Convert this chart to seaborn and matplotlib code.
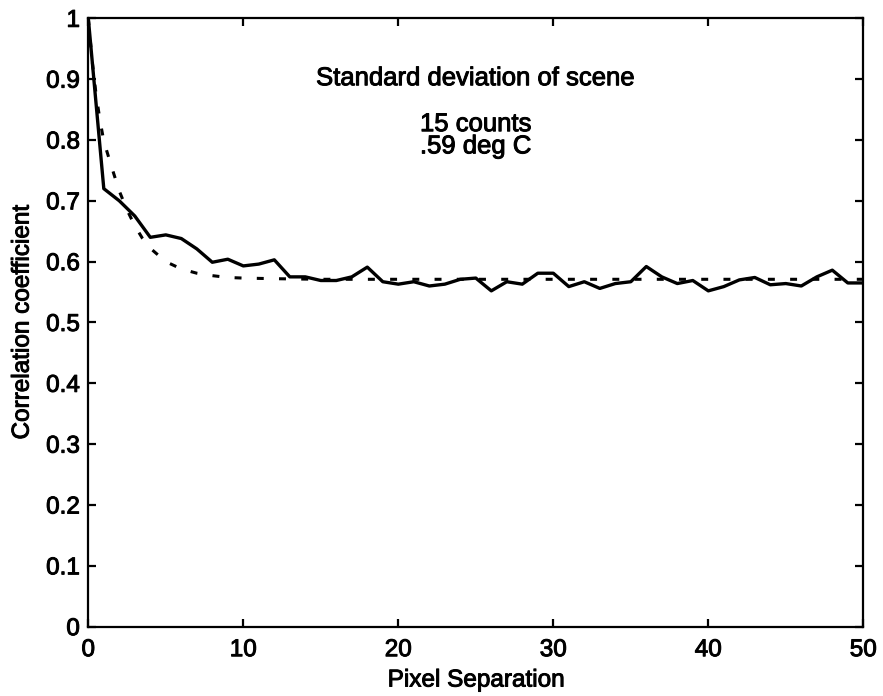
import matplotlib
matplotlib.use("Agg")
import matplotlib.pyplot as plt
import matplotlib.patheffects as pe
import seaborn as sns
import pandas as pd
import numpy as np

# Measured correlation (solid line), pixel separation 0..50
sep = list(range(0, 51))
corr = [1.000, 0.720, 0.700, 0.675, 0.640, 0.644, 0.638, 0.621, 0.599, 0.604,
        0.593, 0.596, 0.603, 0.575, 0.575, 0.569, 0.569, 0.575, 0.591, 0.567,
        0.563, 0.567, 0.560, 0.563, 0.571, 0.573, 0.552, 0.567, 0.563, 0.581,
        0.581, 0.559, 0.567, 0.556, 0.564, 0.567, 0.592, 0.575, 0.564, 0.569,
        0.552, 0.559, 0.570, 0.574, 0.562, 0.564, 0.560, 0.575, 0.586, 0.565,
        0.565]

# Model curve (dashed line)
fit_x = [0, 0.25, 0.5, 0.75, 1, 1.5, 2, 2.5, 3, 3.5, 4, 5, 6, 7, 8, 9, 10,
         12, 15, 20, 30, 40, 50]
fit_y = [1.000, 0.930, 0.875, 0.833, 0.798, 0.756, 0.716, 0.685, 0.659, 0.638,
         0.622, 0.600, 0.588, 0.581, 0.577, 0.574, 0.573, 0.572, 0.571, 0.571,
         0.571, 0.571, 0.571]

x_ticks = [0, 10, 20, 30, 40, 50]
y_ticks = [0, 0.1, 0.2, 0.3, 0.4, 0.5, 0.6, 0.7, 0.8, 0.9, 1]
y_tick_labels = ["0", "0.1", "0.2", "0.3", "0.4", "0.5", "0.6", "0.7", "0.8", "0.9", "1"]

annot_lines = ["Standard deviation of scene", "15 counts", ".59 deg C"]

sns.set_theme(style="ticks")
plt.rcParams["font.family"] = ["Liberation Sans", "DejaVu Sans"]
plt.rcParams["lines.scale_dashes"] = False
plt.rcParams["text.color"] = "black"
plt.rcParams["axes.labelcolor"] = "black"

heavy = [pe.withStroke(linewidth=0.7, foreground="black")]

fig = plt.figure(figsize=(8.83, 6.96), dpi=100)
ax = fig.add_axes([0.1, 0.0996, 0.8777, 0.8741])

df_meas = pd.DataFrame({"sep": sep, "corr": corr})
df_fit = pd.DataFrame({"sep": fit_x, "corr": fit_y})

sns.lineplot(data=df_meas, x="sep", y="corr", ax=ax, color="black",
             linewidth=2.4, estimator=None, sort=False)
sns.lineplot(data=df_fit, x="sep", y="corr", ax=ax, color="black",
             linewidth=2.2, estimator=None, sort=False,
             linestyle=(0, (5, 11)))

ax.set_xlim(0, 50)
ax.set_ylim(0, 1)
ax.set_xticks(x_ticks)
ax.set_xticklabels([str(t) for t in x_ticks])
ax.set_yticks(y_ticks)
ax.set_yticklabels(y_tick_labels)

for s in ax.spines.values():
    s.set_visible(True)
    s.set_linewidth(1.6)
    s.set_color("black")

ax.tick_params(axis="both", which="major", direction="in", length=6, width=1.6,
               top=True, right=True, labelsize=17.5, colors="black")
ax.tick_params(axis="x", pad=9)
ax.tick_params(axis="y", pad=6)
for lab in ax.get_xticklabels() + ax.get_yticklabels():
    lab.set_path_effects(heavy)

ax.set_xlabel("Pixel Separation", fontsize=17.5, labelpad=6, path_effects=heavy)
ax.set_ylabel("Correlation coefficient", fontsize=17.5, labelpad=9, path_effects=heavy)

ax.text(25, 0.890, annot_lines[0], ha="center", va="baseline", fontsize=18.5, path_effects=heavy)
ax.text(25, 0.8145, annot_lines[1], ha="center", va="baseline", fontsize=18.5, path_effects=heavy)
ax.text(25, 0.778, annot_lines[2], ha="center", va="baseline", fontsize=18.5, path_effects=heavy)

fig.savefig("out.png", dpi=100)
